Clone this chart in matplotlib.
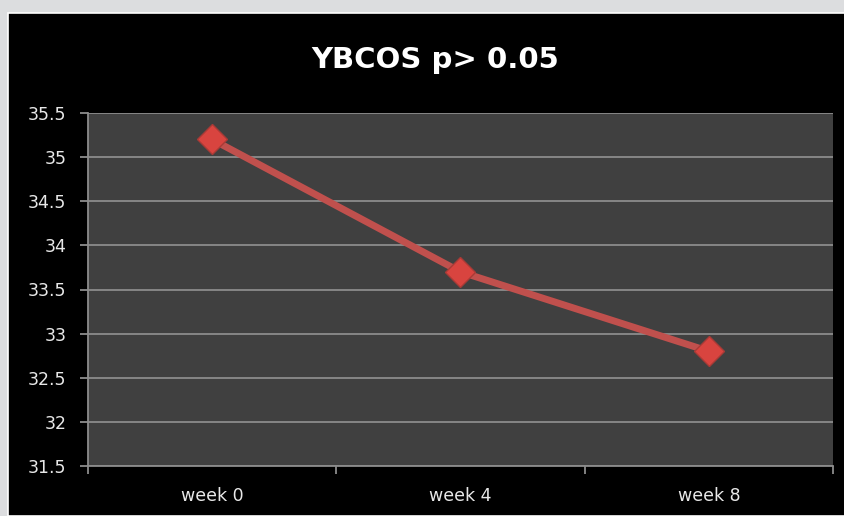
import matplotlib
matplotlib.use("Agg")
import matplotlib.pyplot as plt
from matplotlib.patches import Rectangle

# data
weeks = ["week 0", "week 4", "week 8"]
scores = [35.2, 33.7, 32.8]
yticks = [31.5, 32, 32.5, 33, 33.5, 34, 34.5, 35, 35.5]
title = "YBCOS p> 0.05"

plt.rcParams["font.family"] = ["DejaVu Sans"]

fig = plt.figure(figsize=(8.45, 5.16), dpi=100, facecolor="#dcdddf")

# black chart area with thin white border, kept behind the axes
fig.patches.append(Rectangle((8 / 845, 0), 1.0, 1 - 13 / 516, transform=fig.transFigure,
                             facecolor="black", edgecolor="white", linewidth=1.2, zorder=-10))

ax = fig.add_axes([88 / 845, 1 - 466 / 516, (833 - 88) / 845, (466 - 113) / 516])
ax.set_facecolor("#404040")

x = list(range(len(weeks)))
ax.plot(x, scores, color="#c0504d", linewidth=5, solid_capstyle="round", zorder=3)
ax.plot(x, scores, linestyle="none", marker="D", markersize=15,
        markerfacecolor="#d9443f", markeredgecolor="#a83a36", markeredgewidth=1, zorder=4)

ax.set_xlim(-0.5, len(weeks) - 0.5)
ax.set_ylim(31.5, 35.5)
ax.set_yticks(yticks)
ax.set_yticklabels([f"{v:g}" for v in yticks])
ax.set_xticks(x)
ax.set_xticklabels(weeks)
ax.set_xticks([i - 0.5 for i in range(len(weeks) + 1)], minor=True)

ax.grid(axis="y", color="#8c8c8c", linewidth=1.3)
ax.set_axisbelow(True)

for side in ["top", "right"]:
    ax.spines[side].set_visible(False)
for side in ["left", "bottom"]:
    ax.spines[side].set_color("#8c8c8c")
    ax.spines[side].set_linewidth(1.3)

ax.tick_params(axis="y", colors="#8c8c8c", labelcolor="#e8e8e8", length=5.5, width=1.3,
               pad=10, labelsize=12.5)
ax.tick_params(axis="x", which="major", length=0, labelcolor="#e8e8e8", pad=15, labelsize=12.5)
ax.tick_params(axis="x", which="minor", colors="#8c8c8c", length=5.5, width=1.3, direction="out")

fig.text(0.515, 1 - 60 / 516, title, color="white", fontsize=21, fontweight="bold",
         ha="center", va="center")

fig.savefig("out.png", dpi=100, facecolor=fig.get_facecolor())
